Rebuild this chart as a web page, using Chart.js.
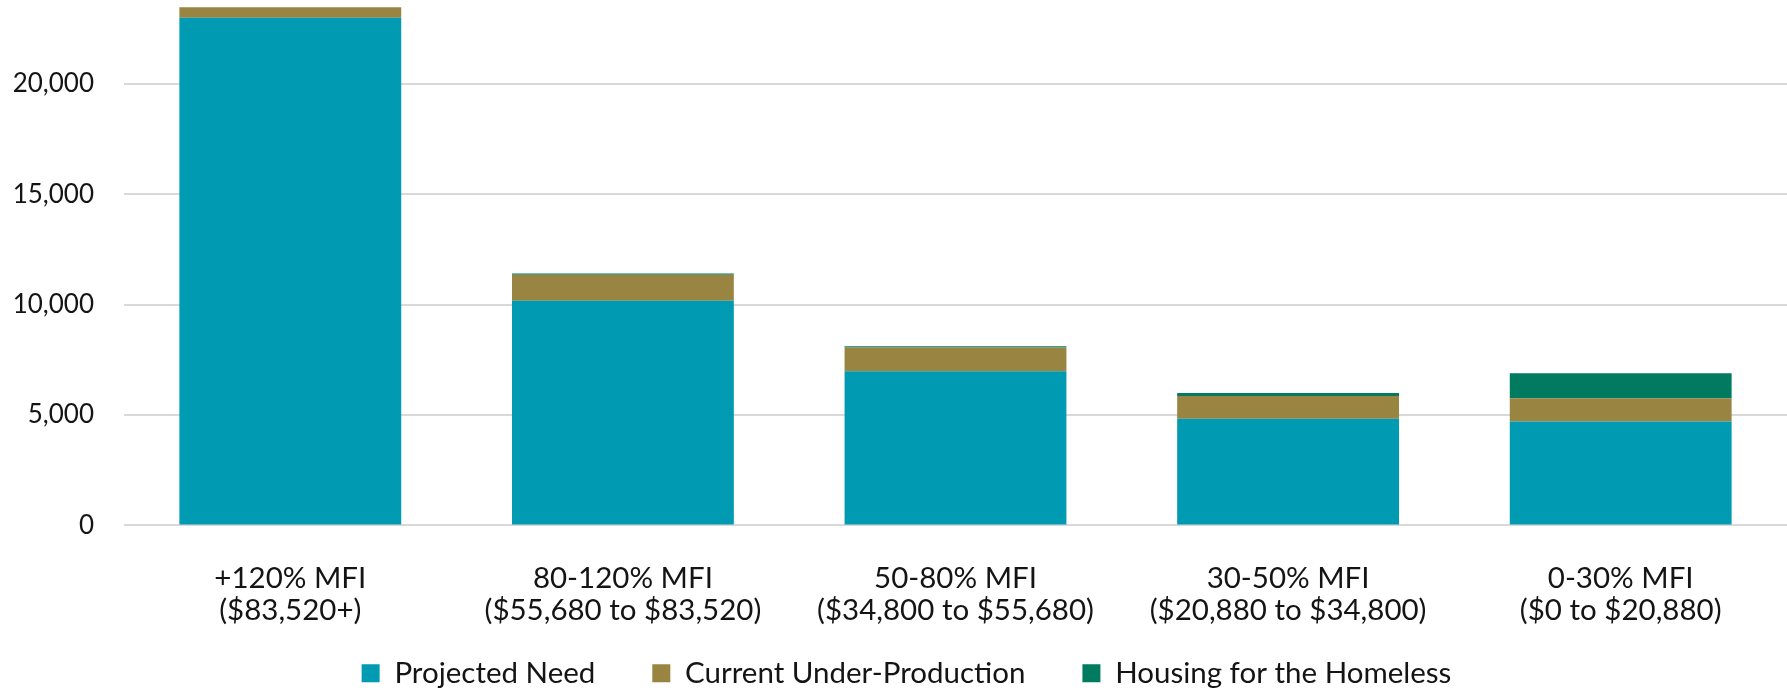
<!DOCTYPE html>
<html>
<head>
<meta charset="utf-8">
<script src="https://cdn.jsdelivr.net/npm/chart.js@4.4.0/dist/chart.umd.min.js"></script>
<style>
  html, body { margin: 0; padding: 0; background: #fff; }
  #wrap { width: 1787px; height: 690px; }
</style>
</head>
<body>
<div id="wrap"><canvas id="myChart"></canvas></div>
<script>
'use strict';

// income bands (two-line labels)
const categories = [
  ['+120% MFI', '($83,520+)'],
  ['80-120% MFI', '($55,680 to $83,520)'],
  ['50-80% MFI', '($34,800 to $55,680)'],
  ['30-50% MFI', '($20,880 to $34,800)'],
  ['0-30% MFI', '($0 to $20,880)']
];

const projectedNeed = [23000, 10180, 6990, 4830, 4710];
const underProduction = [470, 1175, 1070, 1040, 1055];
const homeless = [0, 60, 60, 135, 1130];

const yTicks = [0, 5000, 10000, 15000, 20000];

const textColor = '#141414';
const fontFamily = 'Lato, "Open Sans", sans-serif';

const ctx = document.getElementById('myChart').getContext('2d');

const data = {
  labels: categories,
  datasets: [
    { label: 'Projected Need', data: projectedNeed, backgroundColor: '#009AB2' },
    { label: 'Current Under-Production', data: underProduction, backgroundColor: '#998442' },
    { label: 'Housing for the Homeless', data: homeless, backgroundColor: '#007B5F' }
  ]
};

// move the legend up under the labels (its padding also adds vertical space)
const legendNudge = {
  id: 'legendNudge',
  afterLayout: chart => {
    const lg = chart.legend;
    if (!lg) return;
    lg.top -= 62;
    lg.bottom -= 62;
    lg.left += 13;
    lg.right += 13;
  }
};

const config = {
  type: 'bar',
  data: data,
  options: {
    responsive: true,
    maintainAspectRatio: false,
    animation: false,
    datasets: {
      bar: {
        categoryPercentage: 0.667,
        barPercentage: 1.0,
        borderWidth: 0
      }
    },
    layout: {
      padding: { top: 0, right: 0, left: 0, bottom: -70 }
    },
    scales: {
      x: {
        stacked: true,
        grid: { display: false, drawTicks: false },
        border: { display: false },
        ticks: {
          color: textColor,
          font: { family: fontFamily, size: 29.5, lineHeight: 1.085 },
          padding: 37,
          maxRotation: 0
        }
      },
      y: {
        stacked: true,
        min: 0,
        max: 23800,
        afterBuildTicks: scale => {
          scale.ticks = yTicks.map(v => ({ value: v }));
        },
        afterFit: scale => {
          scale.paddingTop = 0;
          scale.paddingBottom = 0;
          scale.width = 124;
        },
        grid: { color: '#D9D9D9', lineWidth: 2, drawTicks: false },
        border: { display: false },
        ticks: {
          color: textColor,
          font: { family: fontFamily, size: 26 },
          padding: 30,
          callback: v => v.toLocaleString('en-US')
        }
      }
    },
    plugins: {
      tooltip: { enabled: false },
      legend: {
        position: 'bottom',
        labels: {
          color: textColor,
          font: { family: fontFamily, size: 29.5 },
          boxWidth: 18,
          boxHeight: 18,
          padding: 57
        }
      }
    }
  },
  plugins: [legendNudge]
};

const myChart = new Chart(ctx, config);
</script>
</body>
</html>
